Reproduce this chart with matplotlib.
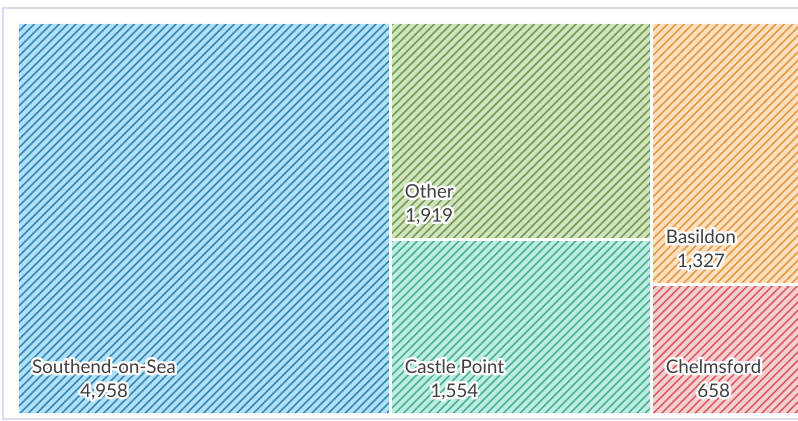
import matplotlib
matplotlib.use("Agg")
import matplotlib.pyplot as plt
import matplotlib.patheffects as pe
from matplotlib.patches import Rectangle

# data
labels = ["Southend-on-Sea", "Other", "Castle Point", "Basildon", "Chelmsford"]
values = [4958, 1919, 1554, 1327, 658]

# light background / wide stripe / dark dotted core, per cell
face_colors = ["#b0e0f5", "#d2e3bf", "#c0ede2", "#fde0c0", "#f6cfcf"]
mid_colors = ["#6cb6de", "#9fbe80", "#7fd0bb", "#f4b878", "#eb9ca0"]
dark_colors = ["#1f6a9c", "#5a8a3a", "#2f9f84", "#e08a2a", "#d13440"]

TEXT_GRAY = "#404040"
FRAME = "#d9d4f2"

W_PX, H_PX = 798, 421
AREA = (17, 22, 800, 414)  # x0, y0, x1, y1 in pixels


def _worst(row, side):
    s = sum(row)
    return max(max(side * side * r / (s * s), s * s / (side * side * r)) for r in row)


def squarify(vals, x, y, w, h):
    """Squarified treemap, returns list of (x, y, w, h)."""
    total = float(sum(vals))
    scale = w * h / total
    areas = [v * scale for v in vals]
    rects = []
    i = 0
    while i < len(areas):
        side = min(w, h)
        row = [areas[i]]
        j = i + 1
        while j < len(areas) and _worst(row + [areas[j]], side) <= _worst(row, side):
            row.append(areas[j])
            j += 1
        s = sum(row)
        if w >= h:
            cw = s / h
            cy = y
            for a in row:
                rh = a / cw
                rects.append((x, cy, cw, rh))
                cy += rh
            x += cw
            w -= cw
        else:
            rh = s / w
            cx = x
            for a in row:
                rw = a / rh
                rects.append((cx, y, rw, rh))
                cx += rw
            y += rh
            h -= rh
        i = j
    return rects


def main():
    fig = plt.figure(figsize=(W_PX / 100, H_PX / 100), dpi=100)
    ax = fig.add_axes([0, 0, 1, 1])
    ax.set_xlim(0, W_PX)
    ax.set_ylim(H_PX, 0)
    ax.axis("off")

    ax.add_patch(Rectangle((3, 8), 810, 411, facecolor="white",
                           edgecolor=FRAME, linewidth=1.2, zorder=0))

    x0, y0, x1, y1 = AREA
    rects = squarify(values, x0, y0, x1 - x0, y1 - y0)
    for (rx, ry, rw, rh), lab, val, fc, mc, dc in zip(
            rects, labels, values, face_colors, mid_colors, dark_colors):
        ax.add_patch(Rectangle((rx, ry), rw, rh, facecolor=fc,
                               edgecolor="none", zorder=1))
        plt.rcParams["hatch.linewidth"] = 1.5
        ax.add_patch(Rectangle((rx, ry), rw, rh, facecolor="none",
                               edgecolor=mc, linewidth=0, hatch="////",
                               zorder=2))
        plt.rcParams["hatch.linewidth"] = 0.6
        ax.add_patch(Rectangle((rx, ry), rw, rh, facecolor="none",
                               edgecolor=dc, linewidth=0, hatch="////",
                               zorder=2.5))
        ax.add_patch(Rectangle((rx, ry), rw, rh, facecolor="none",
                               edgecolor="white", linewidth=2, zorder=3))
        ax.text(rx + 15, ry + rh - 14, f"{lab}\n{val:,}", ha="left",
                va="bottom", multialignment="center", fontsize=13.5,
                family=["Lato", "DejaVu Sans"], color=TEXT_GRAY,
                linespacing=1.5, zorder=5,
                path_effects=[pe.withStroke(linewidth=3.5, foreground="white")])

    fig.savefig("out.png", dpi=100, facecolor="white")
    plt.close(fig)


if __name__ == "__main__":
    main()
